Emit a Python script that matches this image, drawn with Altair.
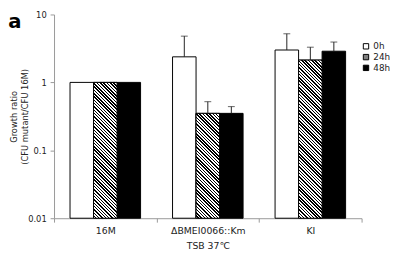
import math
import altair as alt
import pandas as pd

# ---- data ----
groups = ["16M", "ΔBMEI0066::Km", "KI"]
series = ["0h", "24h", "48h"]
values_0h = [1.0, 2.38, 3.0]
values_24h = [1.0, 0.35, 2.13]
values_48h = [1.0, 0.35, 2.88]
upper_0h = [None, 4.8, 5.2]
upper_24h = [None, 0.52, 3.3]
upper_48h = [None, 0.44, 3.93]
y_ticks = [0.01, 0.1, 1, 10]

rows = []
for s, vals, ups in zip(series, [values_0h, values_24h, values_48h],
                        [upper_0h, upper_24h, upper_48h]):
    for g, v, u in zip(groups, vals, ups):
        rows.append({"group": g, "series": s, "value": v, "upper": u})
df = pd.DataFrame(rows)

# ---- layout ----
W, H = 314, 208
YMIN, YMAX = 0.01, 10
PAD_OUT = 0.68
BAR_W = (W / len(groups)) / (len(series) + 2 * PAD_OUT)
FONT = "DejaVu Sans"


def hatch(value, w=BAR_W, period=2.4, dark=0.45):
    h = (math.log10(value) - math.log10(YMIN)) / (math.log10(YMAX) - math.log10(YMIN)) * H
    c = (1 / h + 1 / w) / (1 / h ** 2 + 1 / w ** 2)
    a, b = c / h, c / w
    d = (w + h) / math.sqrt(2)
    n = max(1, round(d / period))
    stops = []
    for i in range(n):
        o0 = round(i / n, 5)
        o1 = round((i + 1 - dark) / n, 5)
        o2 = round((i + 1) / n, 5)
        stops += [
            {"offset": o0, "color": "white"},
            {"offset": o1, "color": "white"},
            {"offset": o1, "color": "black"},
            {"offset": o2, "color": "black"},
        ]
    return {"gradient": "linear", "x1": 0, "y1": 1, "x2": a, "y2": 1 - b, "stops": stops}


x_enc = alt.X(
    "group:N",
    sort=groups,
    scale=alt.Scale(domain=groups, paddingInner=0, paddingOuter=0),
    axis=alt.Axis(
        title="TSB 37℃",
        tickBand="extent",
        labelAngle=0,
        domainColor="#999999",
        tickColor="#999999",
        tickSize=4,
        labelFont=FONT,
        labelFontSize=9.5,
        labelColor="#222222",
        labelPadding=4,
        titleFont=FONT,
        titleFontSize=9.5,
        titleFontWeight="normal",
        titleColor="#222222",
        titlePadding=5,
    ),
)
xo_enc = alt.XOffset(
    "series:N",
    sort=series,
    scale=alt.Scale(domain=series, paddingInner=0, paddingOuter=PAD_OUT),
)
y_scale = alt.Scale(type="log", domain=[YMIN, YMAX])
y_enc = alt.Y(
    "value:Q",
    scale=y_scale,
    axis=alt.Axis(
        values=y_ticks,
        format="~g",
        grid=False,
        domainColor="#999999",
        tickColor="#999999",
        tickSize=4,
        labelFont=FONT,
        labelFontSize=8.5,
        labelColor="#222222",
        labelPadding=4,
        title=["Growth ratio", "(CFU mutant/CFU 16M)"],
        titleFont=FONT,
        titleFontSize=8.5,
        titleFontWeight="normal",
        titleColor="#222222",
        titleLineHeight=11,
        titleX=-36,
        titleY=H / 2,
    ),
)
y2_enc = alt.Y2(datum=YMIN)

base = alt.Chart(df)

bars = base.mark_bar(stroke="black", strokeWidth=1).encode(
    x=x_enc,
    xOffset=xo_enc,
    y=y_enc,
    y2=y2_enc,
    fill=alt.Fill(
        "series:N",
        sort=series,
        scale=alt.Scale(domain=series, range=["white", "#808080", "black"]),
        legend=alt.Legend(
            title=None,
            orient="none",
            legendX=314,
            legendY=28,
            symbolType="square",
            symbolSize=30,
            symbolStrokeColor="black",
            symbolStrokeWidth=1,
            labelFont=FONT,
            labelFontSize=9,
            labelColor="#222222",
            labelOffset=3,
            rowPadding=0,
        ),
    ),
)

layers = [bars]
for g, v in zip(groups, values_24h):
    layers.append(
        base.transform_filter((alt.datum.series == "24h") & (alt.datum.group == g))
        .mark_bar(fill=hatch(v), stroke="black", strokeWidth=1)
        .encode(x=x_enc, xOffset=xo_enc, y=y_enc, y2=y2_enc)
    )

err = base.transform_filter("isValid(datum.upper)")
rules = err.mark_rule(color="#222222", strokeWidth=1).encode(
    x=x_enc, xOffset=xo_enc, y=y_enc, y2="upper:Q"
)
caps = err.mark_tick(color="#222222", thickness=1, size=7, orient="horizontal").encode(
    x=x_enc, xOffset=xo_enc, y=alt.Y("upper:Q", scale=y_scale)
)
label_a = alt.Chart(pd.DataFrame({"t": ["a"]})).mark_text(
    font=FONT, fontSize=20, fontWeight="bold", color="black", align="center", baseline="alphabetic"
).encode(text="t:N", x=alt.value(-40), y=alt.value(14))

chart = (
    alt.layer(*layers, rules, caps, label_a)
    .properties(
        width=W,
        height=H,
        padding={"left": 47, "top": 4, "right": 29, "bottom": 39},
        autosize=alt.AutoSizeParams(type="none"),
        background="white",
    )
    .configure_view(stroke=None)
)

chart.save("out.html", embed_options={"renderer": "svg", "actions": False})
